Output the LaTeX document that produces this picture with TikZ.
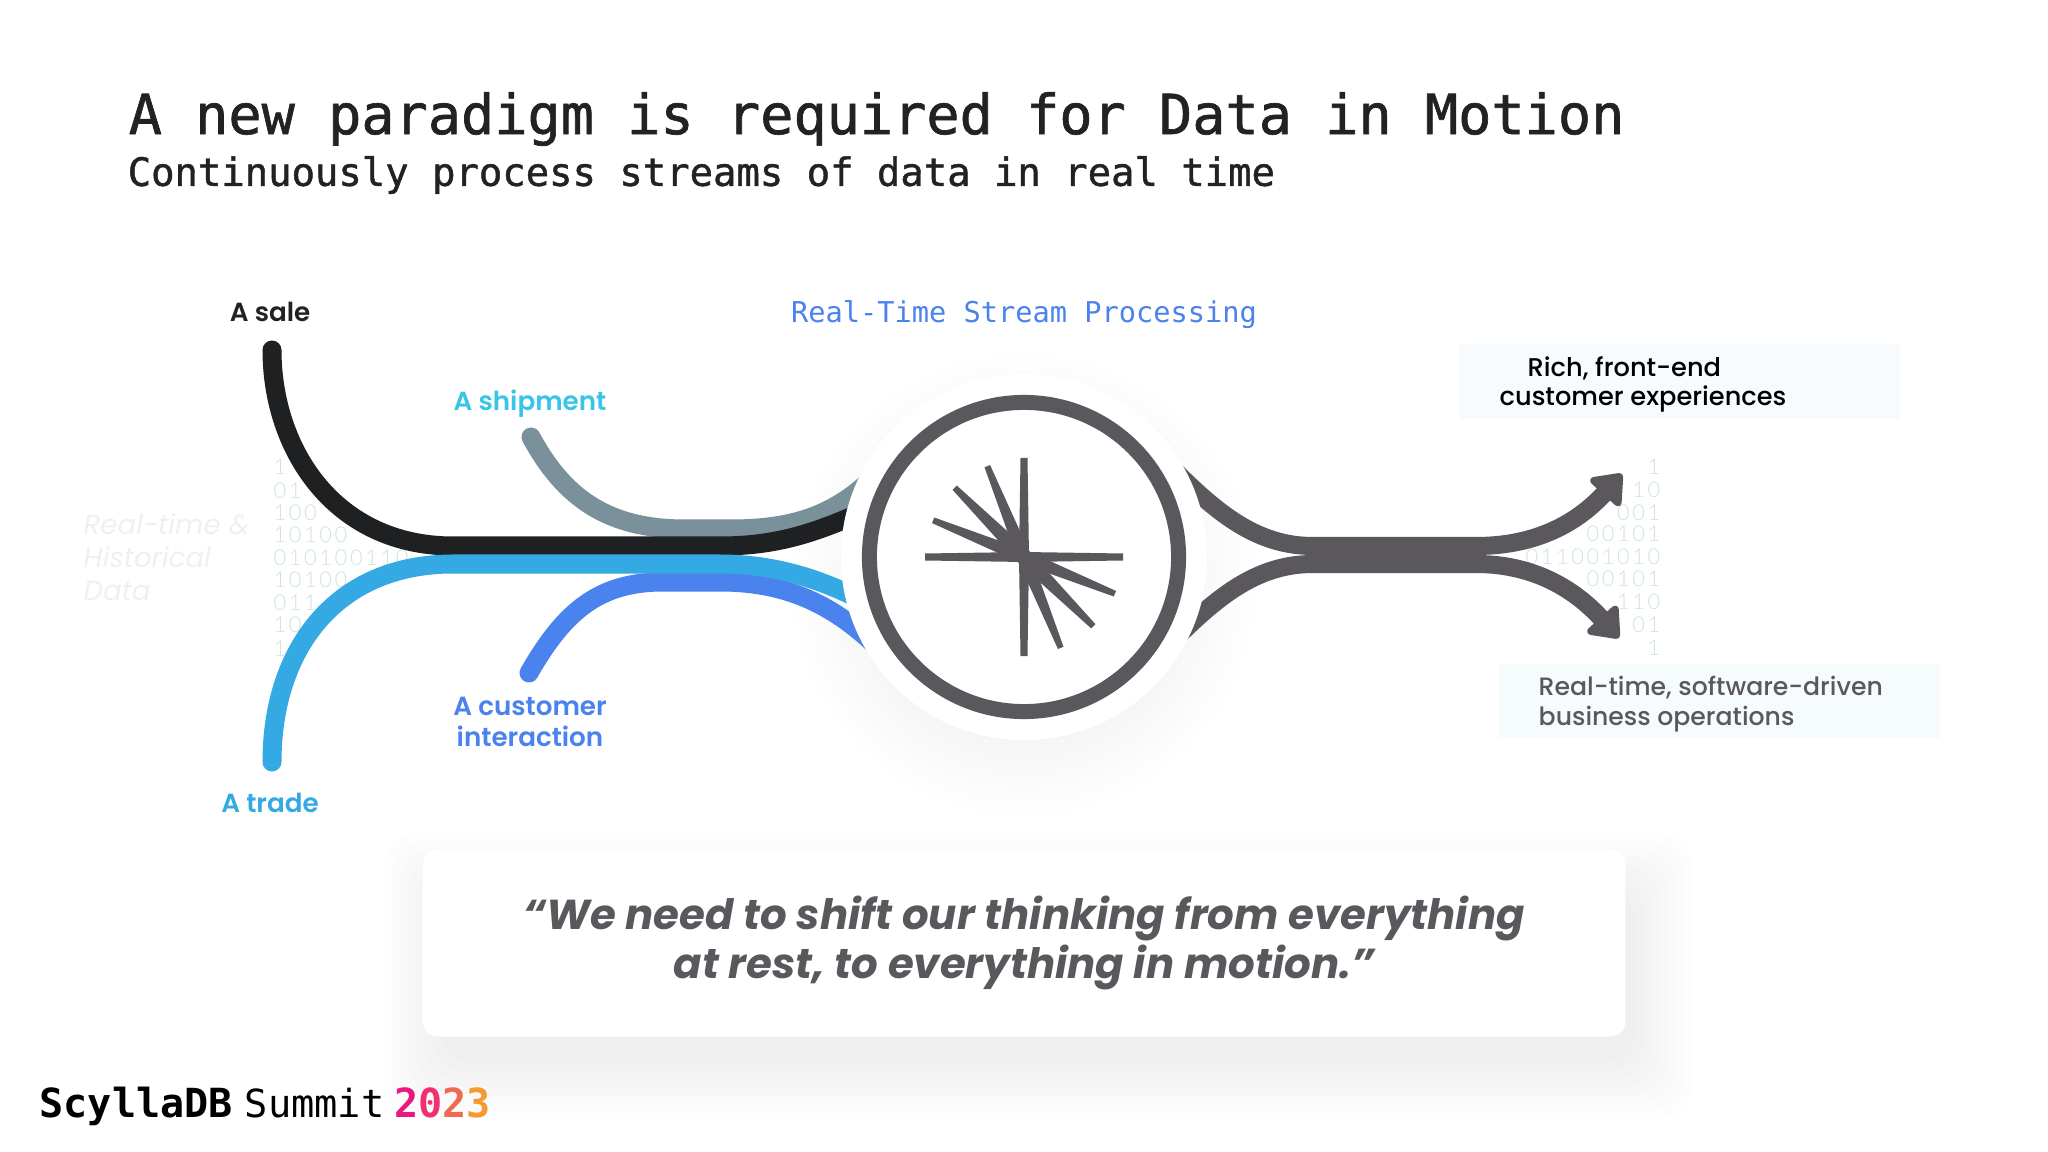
\documentclass[tikz,border=0pt]{standalone}
\usepackage{fontspec}
\setmonofont{DejaVu Sans Mono}
\newfontfamily\headfont[FakeBold=1.2]{DejaVu Sans Mono}
\newfontfamily\labelfont{Poppins}
\newfontfamily\semifont{Poppins SemiBold}
\newfontfamily\mediumfont{Poppins Medium}
\newfontfamily\bitfont[LetterSpace=12]{Lato Light}
\usetikzlibrary{arrows.meta}
\definecolor{inkdark}{HTML}{222224}
\definecolor{streamdark}{HTML}{5A585C}
\definecolor{streamsale}{HTML}{1F2022}
\definecolor{streamship}{HTML}{7A919C}
\definecolor{streamtrade}{HTML}{35A9E3}
\definecolor{streamcust}{HTML}{4A82EE}
\definecolor{shipcyan}{HTML}{38C5E8}
\definecolor{bitpale}{HTML}{D0E3E3}
\definecolor{ghostgrey}{HTML}{F0F0F1}
\definecolor{boxone}{HTML}{F7FBFE}
\definecolor{boxtwo}{HTML}{F6FBFB}
\begin{document}
\begin{tikzpicture}[x=0.01cm,y=-0.01cm,
        stream/.style={line width=0.19cm,line cap=round},
        outflow/.style={line width=0.18cm,color=streamdark,-{Triangle[round,length=0.3cm,width=0.46cm]}},
        srclabel/.style={font=\semifont\fontsize{7.45}{8.6}\selectfont,align=center,inner sep=0pt},
        bitrow/.style={font=\bitfont\fontsize{6.2}{7}\selectfont,color=bitpale,inner sep=0pt},
        sinkbox/.style={minimum width=4.41cm,minimum height=0.74cm,inner sep=0pt},
        sink/.style={font=\mediumfont\fontsize{7.3}{8.5}\selectfont,align=left,inner sep=0pt,anchor=west}]
    \useasboundingbox[fill=white] (0,0) rectangle (2048,1152);
    % heading
    \node[anchor=west,inner sep=0pt,font=\headfont\fontsize{15.7}{18}\selectfont,color=inkdark] (title) at (128,119) {A new paradigm is required for Data in Motion};
    \node[anchor=west,inner sep=0pt,font=\headfont\fontsize{11.06}{13}\selectfont,color=inkdark] (subtitle) at (127,175) {Continuously process streams of data in real time};
    \node[inner sep=0pt,font=\ttfamily\fontsize{8.15}{10}\selectfont,color=streamcust] (rtsp) at (1024,315) {Real-Time Stream Processing};
    % faded text and bits behind the streams
    \node[anchor=north west,inner sep=0pt,align=left,color=ghostgrey,font=\labelfont\itshape\fontsize{7.85}{9.4}\selectfont] (ghost) at (83,513) {Real-time \&\\Historical\\Data};
    \foreach \row/\y/\bits in {a/467/1, b/491/01, c/513/100, d/535/10100, e/558/010100110, f/580/10100, g/603/011, h/625/10, i/649/1}
        \node[bitrow,anchor=west] (in-\row) at (273,\y) {\bits};
    \foreach \row/\y/\bits in {a/467/1, b/490/10, c/513/001, d/534/00101, e/557/011001010, f/579/00101, g/602/110, h/625/01, i/648/1}
        \node[bitrow,anchor=east] (out-\row) at (1661,\y) {\bits};
    % soft shadows
    \foreach \r in {150,158,...,230}
        \fill[black,opacity=0.005] (1024,585) circle (\r);
    \foreach \d in {0,8,...,56}
        \fill[black,opacity=0.006,rounded corners=0.3cm] ({440-\d},{890-\d}) rectangle ({1635+\d},{1062+\d});
    % stream ends
    \foreach \name/\x/\y in {sale/272/350, trade/272/762, ship/531/437, cust/529/673, up/1622/474, down/1619/638}
        \coordinate (\name) at (\x,\y);
    \foreach \name/\x/\y in {saleend/890/500, tradeend/880/610, shipend/885/465, custend/880/650, upstart/1170/466, downstart/1170/644}
        \coordinate (\name) at (\x,\y);
    \draw[stream,color=streamship] (ship) .. controls (565,500) and (610,529) .. (685,529) -- (730,529) .. controls (795,529) and (840,515) .. (shipend);
    \draw[stream,color=streamsale] (sale) .. controls (272,450) and (335,546) .. (453,546) -- (720,546) .. controls (790,546) and (830,526) .. (saleend);
    \draw[stream,color=streamcust] (cust) .. controls (565,610) and (600,582) .. (663,582) -- (720,582) .. controls (780,582) and (830,600) .. (custend);
    \draw[stream,color=streamtrade] (trade) .. controls (272,650) and (335,564) .. (453,564) -- (720,564) .. controls (780,564) and (830,582) .. (tradeend);
    \draw[outflow] (upstart) .. controls (1215,511) and (1255,546) .. (1313,546) -- (1476,546) .. controls (1540,546) and (1580,520) .. (up);
    \draw[outflow] (downstart) .. controls (1215,599) and (1255,564) .. (1313,564) -- (1476,564) .. controls (1540,564) and (1580,595) .. (down);
    % engine
    \node[circle,fill=white,minimum size=3.66cm,inner sep=0pt] (disc) at (1024,557) {};
    \node[circle,draw=streamdark,line width=0.15cm,minimum size=3.09cm,inner sep=0pt] (hub) at (1024,557) {};
    \foreach \a/\len/\wd/\tip in {0/99/5/3.5, 90/99/5/3.5, 180/99/5/3.5, 270/99/5/3.5, 112/98/7/3, 135/98/8/3, 158/98/7/3, 292/98/7/3, 315/98/8/3, 338/98/7/3}
        \fill[streamdark,shift={(hub.center)},rotate=\a] (0,-\wd) -- (\len,-\tip) -- (\len,\tip) -- (0,\wd) -- cycle;
    % sources
    \node[srclabel,color=inkdark] (salelabel) at (270,312) {A sale};
    \node[srclabel,color=shipcyan] (shiplabel) at (530,404) {A shipment};
    \node[srclabel,color=streamcust] (custlabel) at (530,722) {A customer\\interaction};
    \node[srclabel,color=streamtrade] (tradelabel) at (270,803) {A trade};
    % sinks
    \node[sinkbox,fill=boxone] (frontend) at (1679.5,381.5) {};
    \node[sink,text=black] (frontendtext) at (1499,384.5) {\hspace*{0.28cm}Rich, front-end\\customer experiences};
    \node[sinkbox,fill=boxtwo] (operations) at (1719.5,701) {};
    \node[sink,text=streamdark,font=\mediumfont\fontsize{7.15}{8.5}\selectfont] (operationstext) at (1538,704) {Real-time, software-driven\\business operations};
    % quote card
    \node[fill=white,rounded corners=0.15cm,minimum width=12.02cm,minimum height=1.87cm,align=center,inner sep=0pt,text=streamdark,font=\labelfont\bfseries\itshape\fontsize{11.9}{13.9}\selectfont] (quote) at (1024,943) {“We need to shift our thinking from everything\\at rest, to everything in motion.”};
    % footer
    \node[anchor=west,inner sep=0pt,font=\ttfamily\fontsize{11.4}{13}\selectfont] (brand) at (39,1106) {\textbf{ScyllaDB}\hspace{0.12cm}{\fontsize{11}{13}\selectfont Summit}\hspace{0.1cm}\textbf{\textcolor[HTML]{E8187F}{2}\textcolor[HTML]{F0306F}{0}\textcolor[HTML]{F06A50}{2}\textcolor[HTML]{F59A30}{3}}};
\end{tikzpicture}
\end{document}
